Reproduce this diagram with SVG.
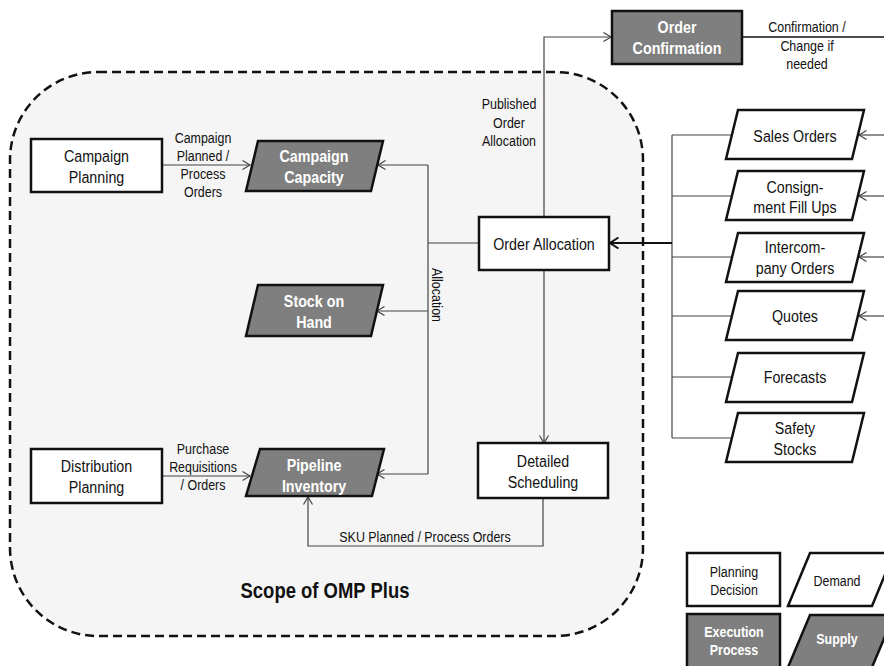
<svg xmlns="http://www.w3.org/2000/svg" width="884" height="666" viewBox="0 0 884 666">
<defs>
<style>
text{font-family:"Liberation Sans",Arial,sans-serif;fill:#111;text-anchor:middle}
.n{font-size:17px}
.b{font-size:17px;font-weight:bold;fill:#fff}
.l{font-size:15px}
.lb{font-size:15px;font-weight:bold;fill:#fff}
.box{fill:#fff;stroke:#111;stroke-width:2.5}
.sup{fill:#7f7f7f;stroke:#111;stroke-width:2.5}
.c{fill:none;stroke:#444;stroke-width:1.2}
.t{fill:none;stroke:#111;stroke-width:2.2}
</style>
<marker id="a" markerWidth="10" markerHeight="10" refX="8" refY="5" orient="auto" markerUnits="userSpaceOnUse">
<path d="M0.5,0.5 L8,5 L0.5,9.5" fill="none" stroke="#444" stroke-width="1.2"/>
</marker>
<marker id="at" markerWidth="12" markerHeight="12" refX="9" refY="6" orient="auto" markerUnits="userSpaceOnUse">
<path d="M0.5,0.5 L9,6 L0.5,11.5" fill="none" stroke="#111" stroke-width="2"/>
</marker>
</defs>
<rect width="884" height="666" fill="#fff"/>
<g id="scope">
<rect x="10" y="72" width="633" height="564" rx="88" ry="88" fill="#f5f5f5" stroke="#111" stroke-width="2.5" stroke-dasharray="9 5"/>
<text transform="matrix(0.84 0 0 1 325 598)" style="font-size:22px;font-weight:bold">Scope of OMP Plus</text>
</g>
<g id="connectors">
<path class="c" d="M162,165 H250" marker-end="url(#a)"/>
<path class="c" d="M479,243 H428"/>
<path class="c" d="M428,165 V474"/>
<path class="c" d="M428,165 H378" marker-end="url(#a)"/>
<path class="c" d="M428,311 H377" marker-end="url(#a)"/>
<path class="c" d="M428,474 H377" marker-end="url(#a)"/>
<path class="c" d="M162,476 H250" marker-end="url(#a)"/>
<path class="c" d="M544,217 V37 H611" marker-end="url(#a)"/>
<path class="t" d="M742,37 H884" style="stroke-width:1.5"/>
<path class="c" d="M544,270 V443" marker-end="url(#a)"/>
<path class="c" d="M543,498 V546 H308 V497" marker-end="url(#a)"/>
<path class="c" d="M672,135 V438"/>
<path class="c" d="M672,135 H732 M672,196 H732 M672,257 H732 M672,316 H732 M672,377 H732 M672,438 H732"/>
<path class="t" d="M672,243 H610" marker-end="url(#at)"/>
<path class="c" d="M884,135 H859" marker-end="url(#a)"/>
<path class="c" d="M884,196 H859" marker-end="url(#a)"/>
<path class="c" d="M884,257 H859" marker-end="url(#a)"/>
<path class="c" d="M884,316 H859" marker-end="url(#a)"/>
<text class="l" transform="matrix(0.83 0 0 1 203 143)">Campaign</text>
<text class="l" transform="matrix(0.83 0 0 1 203 161)">Planned /</text>
<text class="l" transform="matrix(0.83 0 0 1 203 179)">Process</text>
<text class="l" transform="matrix(0.83 0 0 1 203 197)">Orders</text>
<text class="l" transform="matrix(0.83 0 0 1 203 454)">Purchase</text>
<text class="l" transform="matrix(0.83 0 0 1 203 472)">Requisitions</text>
<text class="l" transform="matrix(0.83 0 0 1 203 490)">/ Orders</text>
<text class="l" transform="matrix(0.83 0 0 1 509 109)">Published</text>
<text class="l" transform="matrix(0.83 0 0 1 509 128)">Order</text>
<text class="l" transform="matrix(0.83 0 0 1 509 146)">Allocation</text>
<text class="l" transform="matrix(0.83 0 0 1 807 32)">Confirmation /</text>
<text class="l" transform="matrix(0.83 0 0 1 807 51)">Change if</text>
<text class="l" transform="matrix(0.83 0 0 1 807 69)">needed</text>
<text class="l" transform="matrix(0.83 0 0 1 425 542)">SKU Planned / Process Orders</text>
<text class="l" transform="translate(432,295) rotate(90) scale(0.83,1)">Allocation</text>
</g>
<g id="campaign-planning">
<rect class="box" x="31" y="139" width="131" height="53"/>
<text class="n" transform="matrix(0.84 0 0 1 96.5 162)">Campaign</text>
<text class="n" transform="matrix(0.84 0 0 1 96.5 183)">Planning</text>
</g>
<g id="campaign-capacity">
<polygon class="sup" points="258,141 383,141 371,191 246,191"/>
<text class="b" transform="matrix(0.84 0 0 1 314 162)">Campaign</text>
<text class="b" transform="matrix(0.84 0 0 1 314 183)">Capacity</text>
</g>
<g id="stock-on-hand">
<polygon class="sup" points="258,285 383,285 371,336 246,336"/>
<text class="b" transform="matrix(0.84 0 0 1 314 307)">Stock on</text>
<text class="b" transform="matrix(0.84 0 0 1 314 328)">Hand</text>
</g>
<g id="pipeline-inventory">
<polygon class="sup" points="260,449 384,449 372,496 246,496"/>
<text class="b" transform="matrix(0.84 0 0 1 314 471)">Pipeline</text>
<text class="b" transform="matrix(0.84 0 0 1 314 492)">Inventory</text>
</g>
<g id="distribution-planning">
<rect class="box" x="31" y="449" width="131" height="54"/>
<text class="n" transform="matrix(0.84 0 0 1 96.5 472)">Distribution</text>
<text class="n" transform="matrix(0.84 0 0 1 96.5 493)">Planning</text>
</g>
<g id="order-allocation">
<rect class="box" x="479" y="217" width="130" height="53"/>
<text class="n" transform="matrix(0.84 0 0 1 544 250)">Order Allocation</text>
</g>
<g id="detailed-scheduling">
<rect class="box" x="478" y="443" width="130" height="55"/>
<text class="n" transform="matrix(0.84 0 0 1 543 467)">Detailed</text>
<text class="n" transform="matrix(0.84 0 0 1 543 488)">Scheduling</text>
</g>
<g id="order-confirmation">
<rect class="sup" x="612" y="11" width="130" height="53"/>
<text class="b" transform="matrix(0.84 0 0 1 677 33)">Order</text>
<text class="b" transform="matrix(0.84 0 0 1 677 54)">Confirmation</text>
</g>
<g id="sales-orders">
<polygon class="box" points="738,110 864,110 852,159 726,159"/>
<text class="n" transform="matrix(0.84 0 0 1 795 142)">Sales Orders</text>
</g>
<g id="consignment">
<polygon class="box" points="738,171 864,171 852,220 726,220"/>
<text class="n" transform="matrix(0.84 0 0 1 795 193)">Consign-</text>
<text class="n" transform="matrix(0.84 0 0 1 795 213)">ment Fill Ups</text>
</g>
<g id="intercompany">
<polygon class="box" points="738,233 864,233 852,282 726,282"/>
<text class="n" transform="matrix(0.84 0 0 1 795 253)">Intercom-</text>
<text class="n" transform="matrix(0.84 0 0 1 795 274)">pany Orders</text>
</g>
<g id="quotes">
<polygon class="box" points="738,291 864,291 852,340 726,340"/>
<text class="n" transform="matrix(0.84 0 0 1 795 322)">Quotes</text>
</g>
<g id="forecasts">
<polygon class="box" points="738,353 864,353 852,402 726,402"/>
<text class="n" transform="matrix(0.84 0 0 1 795 383)">Forecasts</text>
</g>
<g id="safety-stocks">
<polygon class="box" points="738,413 864,413 852,462 726,462"/>
<text class="n" transform="matrix(0.84 0 0 1 795 434)">Safety</text>
<text class="n" transform="matrix(0.84 0 0 1 795 455)">Stocks</text>
</g>
<g id="legend-planning-decision">
<rect class="box" x="687" y="553" width="93" height="53"/>
<text class="l" transform="matrix(0.83 0 0 1 734 577)">Planning</text>
<text class="l" transform="matrix(0.83 0 0 1 734 595)">Decision</text>
</g>
<g id="legend-demand">
<polygon class="box" points="810,553 894,553 872,606 788,606"/>
<text class="l" transform="matrix(0.83 0 0 1 837 586)">Demand</text>
</g>
<g id="legend-execution-process">
<rect class="sup" x="687" y="614" width="93" height="60"/>
<text class="lb" transform="matrix(0.83 0 0 1 734 637)">Execution</text>
<text class="lb" transform="matrix(0.83 0 0 1 734 655)">Process</text>
</g>
<g id="legend-supply">
<polygon class="sup" points="810,615 894,615 870,672 786,672"/>
<text class="lb" transform="matrix(0.83 0 0 1 837 644)">Supply</text>
</g>
</svg>
